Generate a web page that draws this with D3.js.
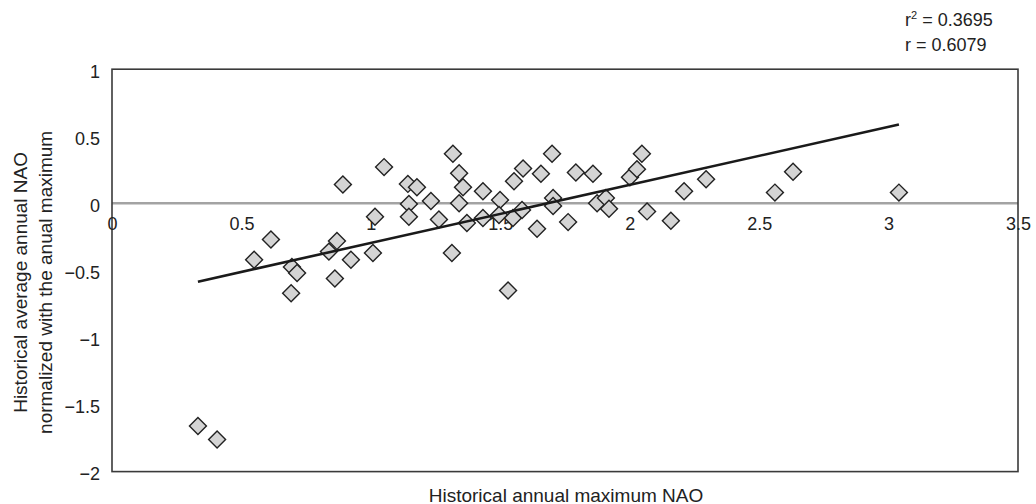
<!DOCTYPE html>
<html>
<head>
<meta charset="utf-8">
<script src="https://cdn.jsdelivr.net/npm/d3@7"></script>
<style>
  html, body { margin: 0; padding: 0; background: #fff; }
  svg { display: block; font-family: "Liberation Sans", Arial, sans-serif; }
  text { fill: #222; }
</style>
</head>
<body>
<svg id="chart" width="1036" height="504"></svg>
<script>
// Historical annual maximum NAO (x) vs. average annual NAO normalized by the maximum (y)
const maxNAO = [
  0.332, 0.406, 0.549, 0.614, 0.695, 0.715, 0.692, 0.838, 0.869, 0.861,
  0.892, 0.923, 1.008, 1.016, 1.051, 1.143, 1.178, 1.147, 1.147, 1.232,
  1.263, 1.313, 1.317, 1.341, 1.356, 1.341, 1.371, 1.433, 1.433, 1.499,
  1.495, 1.549, 1.584, 1.530, 1.553, 1.588, 1.657, 1.700, 1.704, 1.704,
  1.642, 1.762, 1.792, 1.858, 1.874, 1.908, 1.920, 2.001, 2.028, 2.047,
  2.067, 2.159, 2.210, 2.295, 2.561, 2.631, 3.040
];
const normAvgNAO = [
  -1.66, -1.76, -0.42, -0.27, -0.475, -0.52, -0.67, -0.36, -0.28, -0.56,
  0.14, -0.42, -0.37, -0.10, 0.27, 0.145, 0.12, -0.005, -0.10, 0.017,
  -0.12, -0.37, 0.37, 0.225, 0.12, 0.0, -0.147, 0.09, -0.11, 0.025,
  -0.087, -0.11, -0.05, -0.65, 0.165, 0.26, 0.22, 0.37, 0.04, -0.02,
  -0.19, -0.14, 0.23, 0.22, 0.0, 0.04, -0.04, 0.195, 0.255, 0.37,
  -0.06, -0.13, 0.09, 0.18, 0.08, 0.235, 0.08
];
const xTicks = [0, 0.5, 1, 1.5, 2, 2.5, 3, 3.5];
const yTicks = [-2, -1.5, -1, -0.5, 0, 0.5, 1];
const statLines = [["r", "2", " = 0.3695"], ["r", "", " = 0.6079"]];
const xTitle = "Historical annual maximum NAO";
const yTitle = ["Historical average annual NAO", "normalized with the anual maximum"];

const points = maxNAO.map((x, i) => ({ x, y: normAvgNAO[i] }));

const svg = d3.select("#chart");
const plotL = 112, plotR = 1018, plotT = 69.2, plotB = 471.6;

const x = d3.scaleLinear().domain([0, 3.5]).range([plotL, plotR]);
const y = d3.scaleLinear().domain([-2, 1]).range([plotB, plotT]);
const fmt = d3.format("");

// zero reference line
svg.append("line")
  .attr("x1", plotL).attr("x2", plotR)
  .attr("y1", y(0)).attr("y2", y(0))
  .attr("stroke", "#a3a3a3").attr("stroke-width", 2.5);

// plot frame
svg.append("rect")
  .attr("x", plotL).attr("y", plotT)
  .attr("width", plotR - plotL).attr("height", plotB - plotT)
  .attr("fill", "none").attr("stroke", "#3a3a3a").attr("stroke-width", 1.6);

// y axis labels
const yAxis = svg.append("g")
  .attr("transform", `translate(${plotL},0)`)
  .call(d3.axisLeft(y).tickValues(yTicks).tickFormat(fmt).tickSize(0).tickPadding(12));
yAxis.select(".domain").remove();
yAxis.selectAll("text")
  .attr("font-size", 18).attr("fill", "#222").attr("dy", "0.45em")
  .attr("font-family", "Liberation Sans, Arial, sans-serif");

// x axis labels sit just under the zero line
const xAxis = svg.append("g")
  .attr("transform", `translate(0,${y(0)})`)
  .call(d3.axisBottom(x).tickValues(xTicks).tickFormat(fmt).tickSize(0).tickPadding(14));
xAxis.select(".domain").remove();
xAxis.selectAll("text")
  .attr("font-size", 18).attr("fill", "#222")
  .attr("font-family", "Liberation Sans, Arial, sans-serif");

// markers
svg.append("g").selectAll("path")
  .data(points)
  .join("path")
  .attr("d", d3.symbol(d3.symbolSquare, 144))
  .attr("transform", d => `translate(${x(d.x)},${y(d.y)}) rotate(45)`)
  .attr("fill", "#d4d4d4")
  .attr("stroke", "#222")
  .attr("stroke-width", 1.4);

// least-squares trend line across the data range
const mx = d3.mean(points, d => d.x), my = d3.mean(points, d => d.y);
const sxy = d3.sum(points, d => (d.x - mx) * (d.y - my));
const sxx = d3.sum(points, d => (d.x - mx) ** 2);
const slope = sxy / sxx, intercept = my - slope * mx;
const [x0, x1] = d3.extent(points, d => d.x);
svg.append("line")
  .attr("x1", x(x0)).attr("y1", y(intercept + slope * x0))
  .attr("x2", x(x1)).attr("y2", y(intercept + slope * x1))
  .attr("stroke", "#1a1a1a").attr("stroke-width", 2.6);

// axis titles
svg.append("text")
  .attr("x", (plotL + plotR) / 2 + 1).attr("y", 501.5)
  .attr("text-anchor", "middle").attr("font-size", 19)
  .text(xTitle);

yTitle.forEach((t, i) => {
  svg.append("text")
    .attr("transform", `translate(${27 + i * 25},${(plotT + plotB) / 2 + 12}) rotate(-90)`)
    .attr("text-anchor", "middle").attr("font-size", 19)
    .text(t);
});

// correlation statistics
statLines.forEach((parts, i) => {
  const t = svg.append("text")
    .attr("x", 905).attr("y", 26 + i * 25)
    .attr("font-size", 18);
  t.append("tspan").text(parts[0]);
  if (parts[1]) {
    t.append("tspan").attr("font-size", 11).attr("dy", -7).text(parts[1]);
    t.append("tspan").attr("dy", 7).text(parts[2]);
  } else {
    t.append("tspan").text(parts[2]);
  }
});
</script>
</body>
</html>
